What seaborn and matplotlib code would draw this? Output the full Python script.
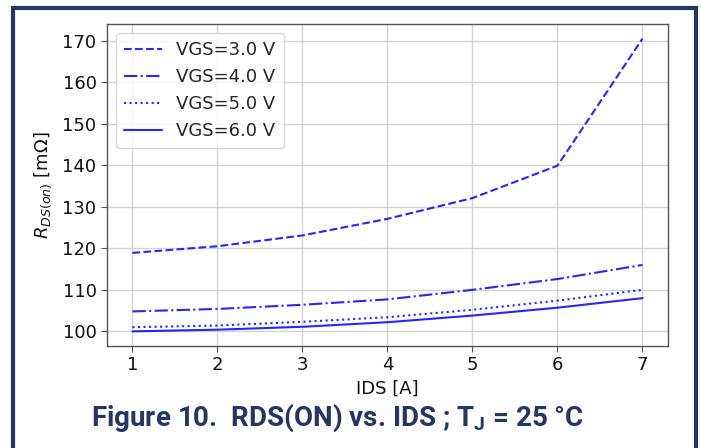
import numpy as np
import pandas as pd
import matplotlib
matplotlib.use("Agg")
import matplotlib.pyplot as plt
import seaborn as sns
from matplotlib.lines import Line2D

ids = [1, 2, 3, 4, 5, 6, 7]
vgs_labels = ["VGS=3.0 V", "VGS=4.0 V", "VGS=5.0 V", "VGS=6.0 V"]
rds_vgs3 = [118.9, 120.5, 123.1, 127.1, 132.1, 139.9, 170.5]
rds_vgs4 = [104.8, 105.4, 106.4, 107.7, 110.0, 112.6, 116.0]
rds_vgs5 = [101.0, 101.4, 102.3, 103.4, 105.2, 107.4, 110.0]
rds_vgs6 = [100.0, 100.4, 101.1, 102.2, 103.8, 105.7, 108.0]

series = [rds_vgs3, rds_vgs4, rds_vgs5, rds_vgs6]
styles = ["--", "-.", ":", "-"]

sns.set_style("ticks")
plt.rcParams["font.family"] = ["DejaVu Sans"]

fig = plt.figure(figsize=(7.01, 4.48), dpi=100)
ax = fig.add_axes([0.1526, 0.2277, 0.8003, 0.7187])

for lab, vals, ls in zip(vgs_labels, series, styles):
    df = pd.DataFrame({"IDS": ids, "RDS": vals})
    sns.lineplot(data=df, x="IDS", y="RDS", ax=ax, color="blue", alpha=0.85,
                 linestyle=ls, linewidth=1.5, label=lab)

ax.grid(True, color="#d4d4d4", linewidth=1.0)
ax.set_axisbelow(True)
for s in ax.spines.values():
    s.set_color("#555555")
    s.set_linewidth(1.0)
ax.tick_params(labelsize=13, color="#555555", length=4, labelcolor="#111111")
ax.set_xticks(ids)
ax.set_xlabel("IDS [A]", fontsize=13, color="#111111")
ax.set_ylabel(r"$R_{DS(on)}$ [mΩ]", fontsize=13, color="#111111", labelpad=6)
ax.margins(x=0.05, y=0.05)
leg = ax.legend(loc="upper left", fontsize=13, frameon=True, handlelength=2.1,
                borderpad=0.45)
leg.get_frame().set_edgecolor("#d0d0d0")

navy = "#263663"
fig.text(0.481, 0.049, "Figure 10.  RDS(ON) vs. IDS ; T$_\\mathregular{J}$ = 25 °C",
         ha="center", va="baseline", fontsize=20, fontweight="bold",
         color=navy, family=["Roboto", "DejaVu Sans"])

# open-bottom frame round the figure
x0, x1, y1 = 13 / 701, 696 / 701, 1 - 8 / 448
fig.add_artist(Line2D([x0, x0, x1, x1], [-0.05, y1, y1, -0.05],
                      transform=fig.transFigure, color=navy, linewidth=3.0,
                      solid_joinstyle="miter", clip_on=False))

fig.savefig("out.png", dpi=100)
